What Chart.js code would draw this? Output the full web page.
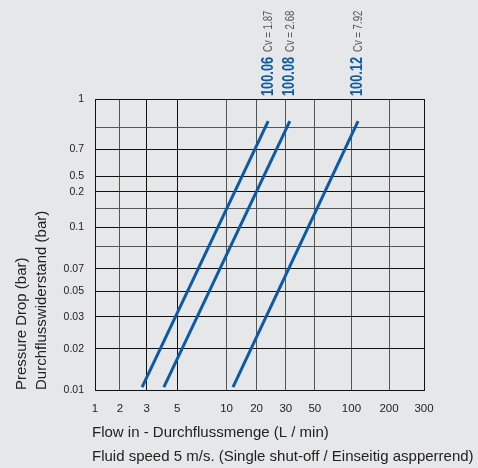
<!DOCTYPE html>
<html>
<head>
<meta charset="utf-8">
<script src="https://cdn.jsdelivr.net/npm/chart.js@4.4.1/dist/chart.umd.min.js"></script>
<style>
html, body { margin: 0; padding: 0; background: #e6e7e9; }
#wrap { width: 478px; height: 468px; }
</style>
</head>
<body>
<div id="wrap"><canvas id="c"></canvas></div>
<script>
// x axis: flow (L/min) grid values, their printed labels and spacing along the axis
const flowTicks = [1, 2, 3, 5, 10, 20, 30, 50, 100, 200, 300];
const flowTickLabels = ['1', '2', '3', '5', '10', '20', '30', '50', '100', '200', '300'];
const flowAxisSteps = [0, 25, 51.7, 82.3, 131.7, 161.7, 191, 220, 256.7, 294.3, 329.3];

// y axis: pressure drop (bar), unlabeled lines get ''
const dropTicks = [0.01, 0.02, 0.03, 0.05, 0.07, 0.085, 0.1, 0.15, 0.2, 0.5, 0.7, 0.85, 1];
const dropTickLabels = ['0.01', '0.02', '0.03', '0.05', '0.07', '', '0.1', '', '0.2', '0.5', '0.7', '', '1'];
const dropAxisSteps = [0, 41.3, 73.3, 98.7, 121, 143.3, 162.7, 181.7, 198, 213.7, 240.7, 262.7, 290.7];

// valves: name, Cv and the ends of each curve
const valveNames = ['100.06', '100.08', '100.12'];
const valveCv = ['1.87', '2.68', '7.92'];
const flowStart = [2.8, 4.0, 11.6];
const flowEnd = [23.5, 32.2, 113];
const dropStart = [0.0105, 0.0105, 0.0105];
const dropEnd = [0.88, 0.88, 0.88];

const xTitleLines = ['Flow in - Durchflussmenge (L / min)', 'Fluid speed 5 m/s. (Single shut-off / Einseitig aspperrend)'];

const BLUE = '#0b5aa6';
const SANS = "'Liberation Sans', Arial, sans-serif";

// the printed grid is not a true log scale, so interpolate in log between grid lines
function toAxis(v, ticks, steps) {
    for (let i = 0; i < ticks.length - 1; i++) {
        if (v <= ticks[i + 1] || i === ticks.length - 2) {
            const f = Math.log(v / ticks[i]) / Math.log(ticks[i + 1] / ticks[i]);
            return steps[i] + f * (steps[i + 1] - steps[i]);
        }
    }
}

const datasets = valveNames.map((name, i) => ({
    label: name,
    data: [
        {x: toAxis(flowStart[i], flowTicks, flowAxisSteps), y: toAxis(dropStart[i], dropTicks, dropAxisSteps)},
        {x: toAxis(flowEnd[i], flowTicks, flowAxisSteps), y: toAxis(dropEnd[i], dropTicks, dropAxisSteps)}
    ],
    showLine: true,
    borderColor: BLUE,
    backgroundColor: BLUE,
    borderWidth: 3,
    pointRadius: 0
}));

// rotated valve names + Cv above the grid, condensed like the print
const valveLabels = {
    id: 'valveLabels',
    afterDraw(chart) {
        const ctx = chart.ctx;
        const top = chart.chartArea.top;
        chart.data.datasets.forEach((ds, i) => {
            const x = chart.getDatasetMeta(i).data[1].x;
            ctx.save();
            ctx.translate(x, top - 3);
            ctx.rotate(-Math.PI / 2);
            ctx.scale(0.8, 1);
            ctx.textAlign = 'left';
            ctx.textBaseline = 'middle';
            ctx.font = 'bold 16px ' + SANS;
            ctx.fillStyle = BLUE;
            ctx.fillText(valveNames[i], 0, 0);
            const w = ctx.measureText(valveNames[i]).width;
            ctx.font = '12px ' + SANS;
            ctx.fillStyle = '#555';
            ctx.fillText('Cv = ' + valveCv[i], w + 6, 0.5);
            ctx.restore();
        });
    }
};

// x title, two lines, allowed to run past the grid on the right
const xTitle = {
    id: 'xTitle',
    afterDraw(chart) {
        const ctx = chart.ctx;
        const left = chart.chartArea.left - 3;
        const y0 = chart.chartArea.bottom + 43;
        ctx.save();
        ctx.font = '15px ' + SANS;
        ctx.fillStyle = '#222';
        ctx.textAlign = 'left';
        ctx.textBaseline = 'middle';
        xTitleLines.forEach((t, i) => ctx.fillText(t, left, y0 + i * 24, 386));
        ctx.restore();
    }
};

function xGridColor(ctx) {
    const lab = flowTickLabels[ctx.index];
    if (ctx.index === 0 || ctx.index === flowTicks.length - 1 || lab === '3' || lab === '5') return '#111';
    return '#555';
}

new Chart(document.getElementById('c'), {
    type: 'scatter',
    data: {datasets: datasets},
    plugins: [valveLabels, xTitle],
    options: {
        responsive: true,
        maintainAspectRatio: false,
        animation: false,
        layout: {padding: {top: 99, right: 54, left: 0, bottom: 0}},
        plugins: {legend: {display: false}, tooltip: {enabled: false}},
        scales: {
            x: {
                type: 'linear',
                min: 0,
                max: flowAxisSteps[flowAxisSteps.length - 1],
                afterBuildTicks: s => { s.ticks = flowAxisSteps.map(v => ({value: v})); },
                afterFit: s => { s.height = 78; },
                ticks: {
                    autoSkip: false,
                    maxRotation: 0,
                    padding: 12,
                    color: '#222',
                    font: {family: SANS, size: 11.5},
                    callback: (v, i) => flowTickLabels[i]
                },
                grid: {color: xGridColor, lineWidth: 1, drawTicks: false},
                border: {display: true, color: '#111', width: 1}
            },
            y: {
                type: 'linear',
                min: 0,
                max: dropAxisSteps[dropAxisSteps.length - 1],
                afterBuildTicks: s => { s.ticks = dropAxisSteps.map(v => ({value: v})); },
                afterFit: s => { s.width = 95; },
                ticks: {
                    autoSkip: false,
                    padding: 11,
                    color: '#222',
                    font: {family: SANS, size: 10.5},
                    callback: (v, i) => dropTickLabels[i]
                },
                grid: {
                    color: ctx => (dropTickLabels[ctx.index] === '' ? '#555' : '#111'),
                    lineWidth: 1,
                    drawTicks: false
                },
                border: {display: true, color: '#111', width: 1},
                title: {
                    display: true,
                    align: 'start',
                    text: ['Pressure Drop (bar)', 'Durchflusswiderstand (bar)'],
                    color: '#222',
                    font: {family: SANS, size: 15, lineHeight: '20px'},
                    padding: {top: 12, bottom: 0}
                }
            }
        }
    }
});
</script>
</body>
</html>
